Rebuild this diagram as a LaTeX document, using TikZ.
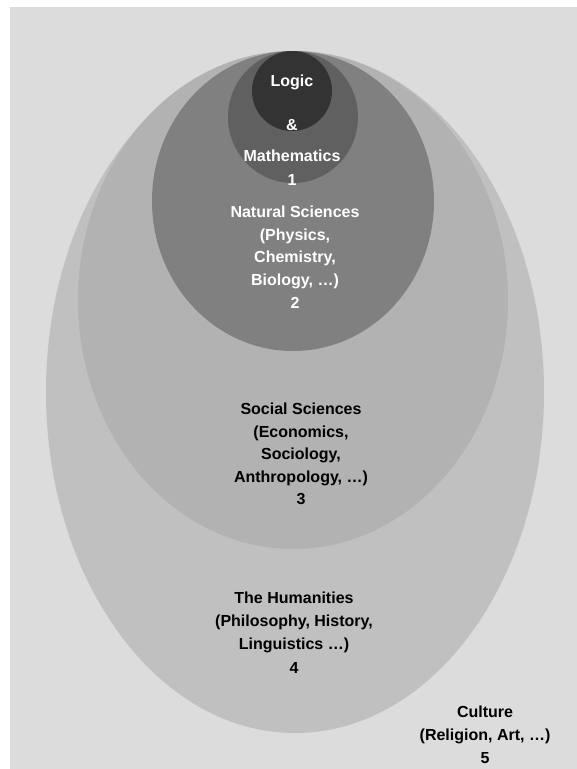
\documentclass[tikz,border=0pt]{standalone}
\usepackage{fontspec}
\setmainfont{Liberation Sans}
\definecolor{culturegray}{HTML}{DCDCDC}
\definecolor{humgray}{HTML}{C0C0C0}
\definecolor{socgray}{HTML}{B2B2B2}
\definecolor{natgray}{HTML}{808080}
\definecolor{mathgray}{HTML}{606060}
\definecolor{logicgray}{HTML}{333333}

\begin{document}
\begin{tikzpicture}[
				x=1pt, y=-1pt,
				field/.style={align=center, inner sep=0pt, font=\fontsize{16}{22.6}\selectfont\bfseries},
				inner field/.style={field, text=white},
				outer field/.style={field, text=black},
			]
			\path[use as bounding box] (0,0) rectangle (577,769);
			\fill[culturegray] (10,7) rectangle (577,769);
			% nested fields, all touching at the top
			\fill[humgray] (295,392) ellipse (249 and 341);
			\fill[socgray] (293,300) ellipse (215 and 249);
			\fill[natgray] (293,201) ellipse (141 and 150);
			\fill[mathgray] (293,117) ellipse (65 and 66);
			\fill[logicgray] (292,91) circle (40);
			\node[inner field] (logic) at (292,130) {Logic\\[21pt]\&\\[9pt]Mathematics\\[1pt]1};
			\node[inner field] (natsci) at (295,257) {Natural Sciences\\(Physics,\\Chemistry,\\Biology, \dots)\\2};
			\node[outer field] (socsci) at (301,454) {Social Sciences\\(Economics,\\Sociology,\\Anthropology, \dots)\\3};
			\node[outer field] (human) at (294,633) {The Humanities\\(Philosophy, History,\\Linguistics \dots)\\[2pt]4};
			\node[outer field] (culture) at (485,735) {Culture\\(Religion, Art, \dots)\\[1pt]5};
		\end{tikzpicture}
\end{document}
